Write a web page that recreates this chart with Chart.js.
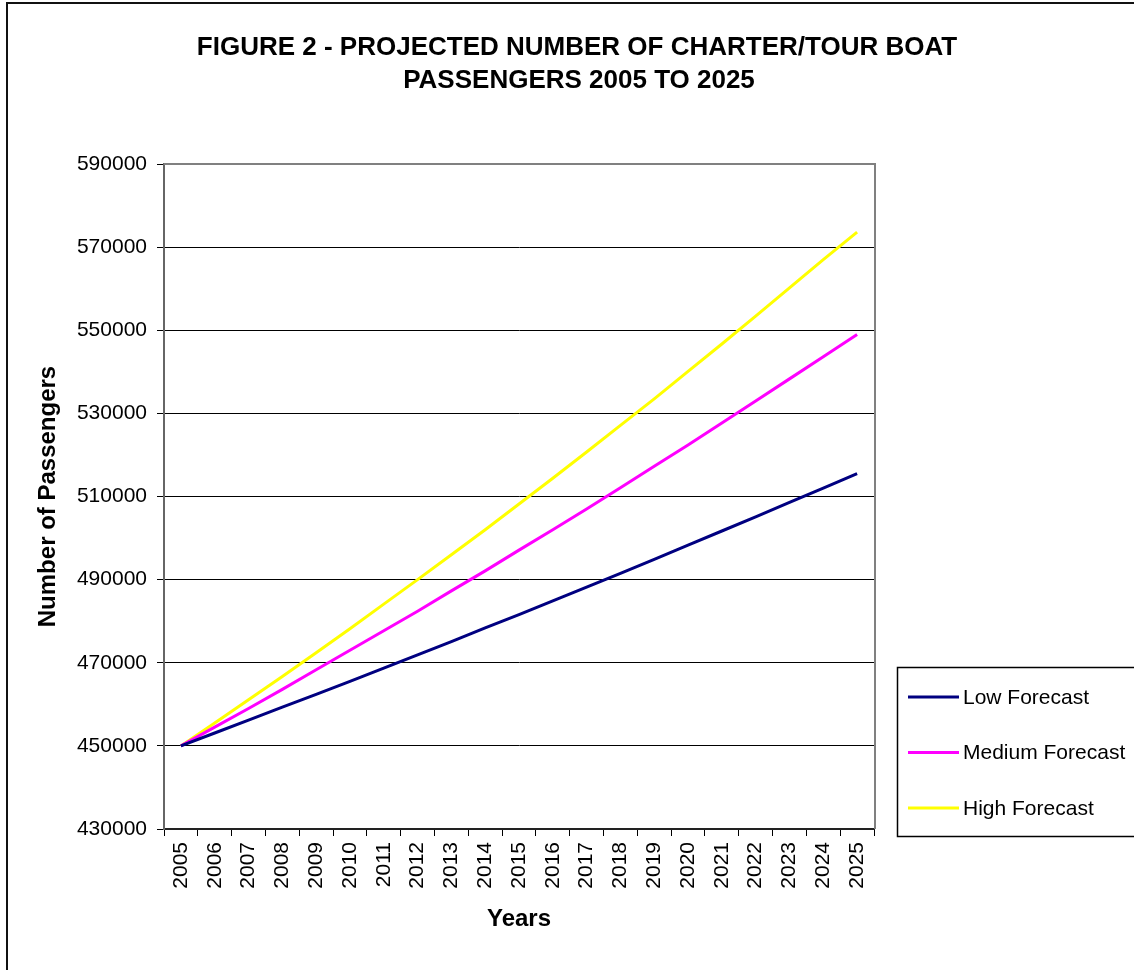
<!DOCTYPE html>
<html>
<head>
<meta charset="utf-8">
<title>Charter/Tour Boat Passengers 2005 to 2025</title>
<script src="https://cdn.jsdelivr.net/npm/chart.js@4.4.1/dist/chart.umd.min.js"></script>
<style>
  html, body { margin: 0; padding: 0; background: #ffffff; }
  #wrap { width: 1134px; height: 970px; }
</style>
</head>
<body>
<div id="wrap"><canvas id="chart" width="1134" height="970"></canvas></div>
<script>
// Chart text
const TITLE_LINES = ['FIGURE 2 - PROJECTED NUMBER OF CHARTER/TOUR BOAT', 'PASSENGERS 2005 TO 2025'];
const X_TITLE = 'Years';
const Y_TITLE = 'Number of Passengers';

// Categories
const YEARS = ['2005', '2006', '2007', '2008', '2009', '2010', '2011', '2012', '2013', '2014', '2015',
               '2016', '2017', '2018', '2019', '2020', '2021', '2022', '2023', '2024', '2025'];

// Series values (passengers per year)
const SERIES_NAMES = ['Low Forecast', 'Medium Forecast', 'High Forecast'];
const LOW = [450000, 453100, 456200, 459300, 462400, 465500, 468700, 471900, 475100, 478400, 481600,
             484900, 488200, 491500, 494900, 498300, 501700, 505100, 508600, 512000, 515500];
const MEDIUM = [450000, 454500, 459000, 463600, 468300, 473000, 477700, 482400, 487300, 492100, 497100,
                502000, 507000, 512100, 517300, 522400, 527700, 533000, 538300, 543600, 549000];
const HIGH = [450000, 455500, 461100, 466700, 472400, 478200, 484100, 490000, 496000, 502000, 508200,
              514400, 520700, 527100, 533500, 540100, 546700, 553400, 560200, 567000, 573600];

// Value axis ticks
const Y_TICKS = [430000, 450000, 470000, 490000, 510000, 530000, 550000, 570000, 590000];

const FONT = '"Liberation Sans", Arial, Helvetica, sans-serif';
const COLORS = ['#000080', '#FF00FF', '#FFFF00'];

// Frame, heading, plot border and boxed legend
const decorations = {
  id: 'decorations',
  beforeDraw(chart) {
    const ctx = chart.ctx;
    ctx.save();
    ctx.fillStyle = '#ffffff';
    ctx.fillRect(0, 0, chart.width, chart.height);
    // outer frame (continues past the right and bottom edges)
    ctx.strokeStyle = '#111111';
    ctx.lineWidth = 2;
    ctx.strokeRect(7, 3, chart.width + 40, chart.height + 40);
    // heading
    ctx.fillStyle = '#000000';
    ctx.font = 'bold 26px ' + FONT;
    ctx.textAlign = 'center';
    ctx.textBaseline = 'alphabetic';
    ctx.fillText(TITLE_LINES[0], 577, 55);
    ctx.fillText(TITLE_LINES[1], 579, 88);
    ctx.restore();
  },
  afterDraw(chart) {
    const ctx = chart.ctx;
    const a = chart.chartArea;
    ctx.save();
    // plot area border on top and right
    ctx.strokeStyle = '#808080';
    ctx.lineWidth = 2;
    ctx.beginPath();
    ctx.moveTo(a.left, a.top);
    ctx.lineTo(a.right + 1, a.top);
    ctx.lineTo(a.right + 1, a.bottom);
    ctx.stroke();

    // legend box
    ctx.strokeStyle = '#000000';
    ctx.lineWidth = 1.5;
    ctx.strokeRect(897.5, 667.5, 300, 169);
    ctx.font = '21px ' + FONT;
    ctx.textAlign = 'left';
    ctx.textBaseline = 'middle';
    chart.data.datasets.forEach((ds, i) => {
      const y = 697 + i * 55.5;
      ctx.strokeStyle = ds.borderColor;
      ctx.lineWidth = 3;
      ctx.beginPath();
      ctx.moveTo(908, y);
      ctx.lineTo(959, y);
      ctx.stroke();
      ctx.fillStyle = '#000000';
      ctx.fillText(ds.label, 963, y + 1);
    });
    ctx.restore();
  }
};

const seriesData = [LOW, MEDIUM, HIGH];

new Chart(document.getElementById('chart'), {
  type: 'line',
  data: {
    labels: YEARS,
    datasets: SERIES_NAMES.map((name, i) => ({
      label: name,
      data: seriesData[i],
      borderColor: COLORS[i],
      backgroundColor: COLORS[i],
      borderWidth: 3,
      pointRadius: 0,
      pointHoverRadius: 0,
      tension: 0,
      fill: false
    }))
  },
  options: {
    responsive: false,
    animation: false,
    devicePixelRatio: 1,
    layout: { padding: { left: 20, top: 164, right: 260, bottom: 0 } },
    plugins: {
      legend: { display: false },
      title: { display: false },
      tooltip: { enabled: false }
    },
    scales: {
      x: {
        type: 'category',
        offset: true,
        afterFit(scale) { scale.height = 141; },
        grid: {
          offset: true,
          drawOnChartArea: false,
          drawTicks: true,
          tickLength: 7,
          color: '#000000',
          lineWidth: 1
        },
        border: { display: true, color: '#222222', width: 2 },
        ticks: {
          autoSkip: false,
          minRotation: 90,
          maxRotation: 90,
          padding: 6,
          color: '#000000',
          font: { family: FONT, size: 21 }
        },
        title: {
          display: true,
          text: X_TITLE,
          color: '#000000',
          font: { family: FONT, size: 24, weight: 'bold' },
          padding: { top: 0, bottom: 36 }
        }
      },
      y: {
        min: Y_TICKS[0],
        max: Y_TICKS[Y_TICKS.length - 1],
        afterFit(scale) { scale.width = 144; },
        afterBuildTicks(scale) { scale.ticks = Y_TICKS.map(v => ({ value: v })); },
        grid: {
          drawOnChartArea: true,
          drawTicks: true,
          tickLength: 7,
          color: '#000000',
          lineWidth: 1
        },
        border: { display: true, color: '#666666', width: 2 },
        ticks: {
          padding: 10,
          color: '#000000',
          font: { family: FONT, size: 21 },
          callback: (v) => String(v)
        },
        title: {
          display: true,
          text: Y_TITLE,
          color: '#000000',
          font: { family: FONT, size: 24, weight: 'bold' },
          padding: { top: 14, bottom: 0 }
        }
      }
    }
  },
  plugins: [decorations]
});
</script>
</body>
</html>
